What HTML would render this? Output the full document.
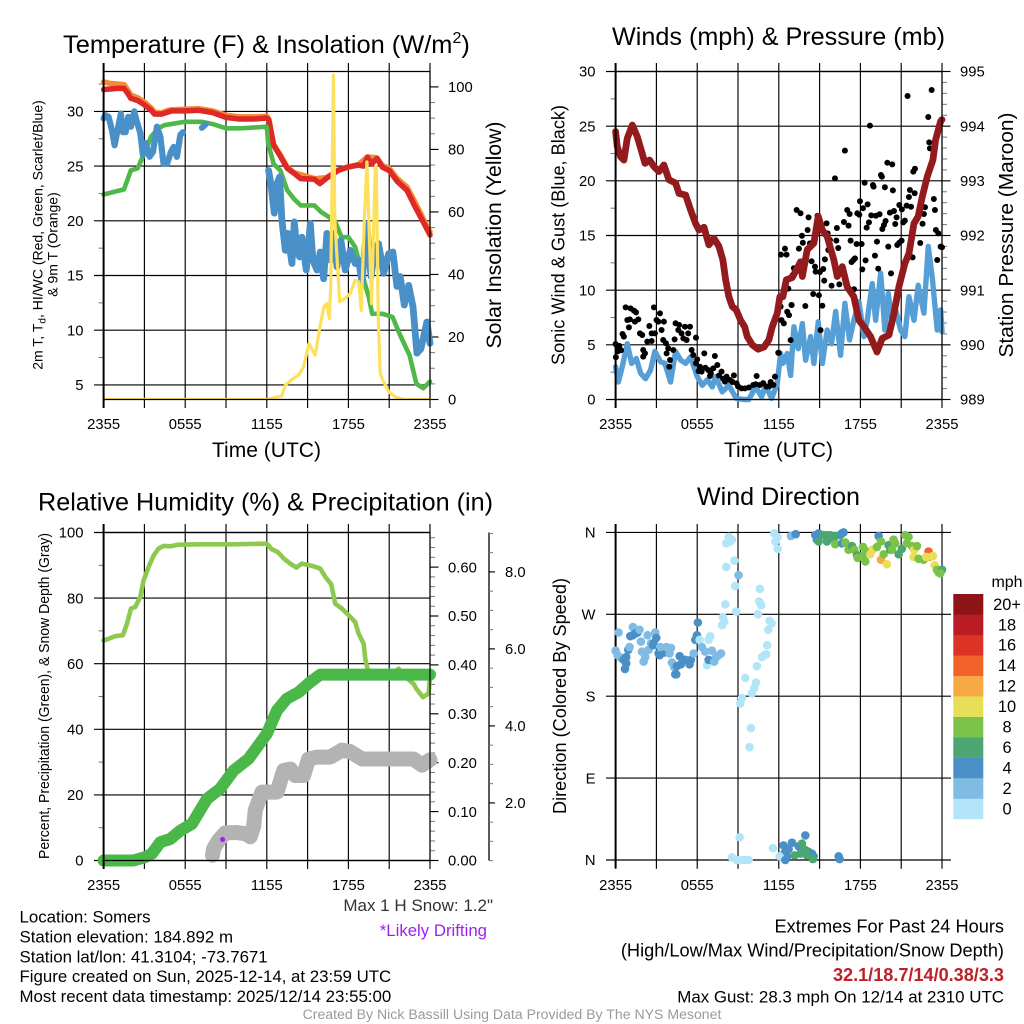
<!DOCTYPE html>
<html lang="en">
<head>
<meta charset="utf-8">
<title>Somers Mesonet Meteogram</title>
<style>
html,body{margin:0;padding:0;background:#fff;width:1024px;height:1024px;overflow:hidden}
svg{display:block;font-family:"Liberation Sans",Arial,sans-serif;fill:#000}
text{white-space:pre}
</style>
</head>
<body>
<svg id="chart" width="1024" height="1024" viewBox="0 0 1024 1024" xmlns="http://www.w3.org/2000/svg">
  <rect x="0" y="0" width="1024" height="1024" fill="#fff"/>
  <defs><clipPath id="temp-clip"><rect x="103" y="71" width="328" height="328.5"/></clipPath></defs>

  <g id="layer-plots"></g>

  <text x="63" y="53" font-size="25.4">Temperature (F) &amp; Insolation (W/m<tspan dy="-10" font-size="16">2</tspan><tspan dy="10">)</tspan></text>
  <text x="612" y="45" font-size="25.2" textLength="333" lengthAdjust="spacingAndGlyphs">Winds (mph) &amp; Pressure (mb)</text>
  <text x="38" y="510.5" font-size="25.2" textLength="455" lengthAdjust="spacingAndGlyphs">Relative Humidity (%) &amp; Precipitation (in)</text>
  <text x="697" y="505" font-size="25.2" textLength="163" lengthAdjust="spacingAndGlyphs">Wind Direction</text>

  <text x="212" y="457" font-size="20.9" textLength="109" lengthAdjust="spacingAndGlyphs">Time (UTC)</text>
  <text x="724" y="457" font-size="20.9" textLength="109" lengthAdjust="spacingAndGlyphs">Time (UTC)</text>

  <text transform="translate(42.5,235) rotate(-90)" text-anchor="middle" font-size="14">2m T, T<tspan dy="3" font-size="10">d</tspan><tspan dy="-3">, HI/WC (Red, Green, Scarlet/Blue)</tspan></text>
  <text transform="translate(57.5,244.5) rotate(-90)" text-anchor="middle" font-size="14">&amp; 9m T (Orange)</text>
  <text transform="translate(501,235) rotate(-90)" text-anchor="middle" font-size="21" textLength="227" lengthAdjust="spacingAndGlyphs">Solar Insolation (Yellow)</text>
  <text transform="translate(564.5,235) rotate(-90)" text-anchor="middle" font-size="18.8" textLength="260" lengthAdjust="spacingAndGlyphs">Sonic Wind &amp; Gust (Blue, Black)</text>
  <text transform="translate(1013,235) rotate(-90)" text-anchor="middle" font-size="20.5" textLength="245" lengthAdjust="spacingAndGlyphs">Station Pressure (Maroon)</text>
  <text transform="translate(49,696) rotate(-90)" text-anchor="middle" font-size="14.6" textLength="326" lengthAdjust="spacingAndGlyphs">Percent, Precipitation (Green), &amp; Snow Depth (Gray)</text>
  <text transform="translate(566,696) rotate(-90)" text-anchor="middle" font-size="18.8" textLength="236" lengthAdjust="spacingAndGlyphs">Direction (Colored By Speed)</text>

  <text x="493" y="911" text-anchor="end" font-size="17" fill="#333">Max 1 H Snow: 1.2"</text>
  <text x="487" y="936" text-anchor="end" font-size="16.8" fill="#a020f0">*Likely Drifting</text>

  <text x="19.5" y="922.5" font-size="16.85">Location: Somers</text>
  <text x="19.5" y="942.5" font-size="16.85">Station elevation: 184.892 m</text>
  <text x="19.5" y="962.5" font-size="16.85">Station lat/lon: 41.3104; -73.7671</text>
  <text x="19.5" y="982" font-size="16.85">Figure created on Sun, 2025-12-14, at 23:59 UTC</text>
  <text x="19.5" y="1002" font-size="16.85">Most recent data timestamp: 2025/12/14 23:55:00</text>

  <text x="1004" y="932.5" text-anchor="end" font-size="18.2">Extremes For Past 24 Hours</text>
  <text x="1004" y="956.5" text-anchor="end" font-size="18.2">(High/Low/Max Wind/Precipitation/Snow Depth)</text>
  <text x="1004" y="981" text-anchor="end" font-size="18.1" font-weight="bold" fill="#c01f28">32.1/18.7/14/0.38/3.3</text>
  <text x="1004" y="1002.5" text-anchor="end" font-size="16.9">Max Gust: 28.3 mph On 12/14 at 2310 UTC</text>
  <text x="512" y="1019" text-anchor="middle" font-size="14.1" fill="#9a9a9a">Created By Nick Bassill Using Data Provided By The NYS Mesonet</text>
</svg>

<script>
/* ---------- shared axis data ---------- */
const xTickHours = [0, 3, 6, 9, 12, 15, 18, 21, 24];
const xTickLabels = ['2355', '', '0555', '', '1155', '', '1755', '', '2355'];

const tempTicks = [5, 10, 15, 20, 25, 30];
const tempMinorTicks = [7.5, 12.5, 17.5, 22.5, 27.5, 32.5];
const solarTicks = [0, 20, 40, 60, 80, 100];
const solarMinorTicks = [5, 10, 15, 25, 30, 35, 45, 50, 55, 65, 70, 75, 85, 90, 95];
const windTicks = [0, 5, 10, 15, 20, 25, 30];
const windMinorTicks = [2.5, 7.5, 12.5, 17.5, 22.5, 27.5];
const pressureTicks = [989, 990, 991, 992, 993, 994, 995];
const pressureMinorTicks = [989.2, 989.4, 989.6, 989.8, 990.2, 990.4, 990.6, 990.8, 991.2, 991.4, 991.6, 991.8, 992.2, 992.4, 992.6, 992.8, 993.2, 993.4, 993.6, 993.8, 994.2, 994.4, 994.6, 994.8];
const percentTicks = [0, 20, 40, 60, 80, 100];
const percentMinorTicks = [10, 30, 50, 70, 90];
const precipTicks = [0, 0.1, 0.2, 0.3, 0.4, 0.5, 0.6];
const precipTickLabels = ['0.00', '0.10', '0.20', '0.30', '0.40', '0.50', '0.60'];
const precipMinorTicks = [0.02, 0.04, 0.06, 0.08, 0.12, 0.14, 0.16, 0.18, 0.22, 0.24, 0.26, 0.28, 0.32, 0.34, 0.36, 0.38, 0.42, 0.44, 0.46, 0.48, 0.52, 0.54, 0.56, 0.58, 0.62, 0.64, 0.66];
const snowTicks = [2, 4, 6, 8];
const snowTickLabels = ['2.0', '4.0', '6.0', '8.0'];
const snowMinorTicks = [0.5, 1, 1.5, 2.5, 3, 3.5, 4.5, 5, 5.5, 6.5, 7, 7.5, 8.5, 9];
const directionTicks = [0, 90, 180, 270, 360];
const directionTickLabels = ['N', 'E', 'S', 'W', 'N'];

/* ---------- temperature panel ---------- */
const airTempHours = [0,.5,1,1.5,1.75,2,2.5,3,3.5,3.75,4.25,4.75,5,6,7,8,9,10,11,12,12.15,12.5,12.75,13,13.5,14,14.5,15.5,15.9,16.4,17,17.25,17.9,18.75,19.1,19.4,19.7,20.1,20.5,21,21.6,22.3,22.9,23.5,24];
const airTempValues = [32,32.05,32.1,32.1,31.7,31.2,31,30.6,30.1,29.75,29.75,29.95,30.05,30.05,30.1,29.9,29.45,29.3,29.3,29.4,29.2,26.9,26.4,25.9,24.8,24.35,23.85,23.8,23.4,23.9,24.4,24.6,24.9,25.1,25,25.8,25.2,25.7,24.9,24.6,23.6,22.8,21.3,19.9,18.7];
const nineMeterHours = [0,.5,1,1.5,1.75,2,2.5,3,3.5,3.75,4.25,4.75,5,6,7,8,9,10,11,12,12.15,12.5,13,13.5,14,15.5,16.4,17.25,18.75,19.4,20.1,20.5,21,21.6,22.3,22.9,23.5,24];
const nineMeterValues = [32.7,32.55,32.5,32.45,32,31.5,31.25,30.85,30.3,29.9,29.85,30.1,30.15,30.2,30.25,30.05,29.65,29.5,29.5,29.55,29.3,27,26,24.9,24.4,23.85,23.95,24.65,25.15,25.85,25.75,25.05,24.8,23.85,23.1,21.7,20.2,19];
const heatIndexHours = [0,1.5,2,2.5,3,3.5,4,4.5,6,7.2,8,9,10,12,12.1,12.5,13,13.5,14,14.5,15.5,16,17,17.5,18,18.5,19,19.5,19.75,20.5,21.25,21.75,22.5,23,23.5,24];
const heatIndexValues = [22.4,22.87,24.6,24.8,26.2,27.7,28.45,28.75,29.05,29.05,28.85,28.45,28.45,28.6,27.1,25.2,24.6,22.8,22,21.4,21.4,20.8,20,18.5,18.5,17.6,15.2,13,11.5,11.5,11.2,9.7,7.7,5.1,4.7,5.3];
const dewPointHoursA = [0,.12,.37,.61,.81,.98,1.27,1.42,1.62,1.81,2.01,2.25,2.45,2.7,2.89,3.09,3.38,3.63,3.92,4.17,4.41,4.66,4.95,5.15,5.39,5.64,5.83];
const dewPointValuesA = [29.36,29.66,29.5,28.3,26.9,28,29.8,28.1,28.1,29.5,28.6,30,29.05,28,26,27.1,25.85,26.3,28.6,27.7,25.2,25.2,26.3,26.75,25.85,27.85,28.1];
const dewPointHoursB = [7.23,7.52];
const dewPointValuesB = [28.5,28.85];
const dewPointHoursC = [12.13,12.3,12.55,12.75,12.94,13.11,13.36,13.53,13.85,14.02,14.22,14.41,14.58,14.9,15.2,15.39,15.69,15.93,16.18,16.42,16.67,16.91,17.16,17.45,17.77,18.14,18.5,18.75,19,19.36,19.66,19.98,20.22,20.59,20.96,21.27,21.57,21.81,22.11,22.43,22.75,23.04,23.33,23.77,24];
const dewPointValuesC = [24.6,23.4,20.7,23.4,24,20.05,17.3,18.85,16.1,19.9,17.3,16.7,18.5,15.5,19.75,16.4,15.5,17.15,14.7,18.85,16.4,18.85,15.8,18.2,15.5,17.3,16.1,16.4,14.4,19.6,14.9,17.6,17.9,15.2,17,17.15,14,14.9,12.3,14.1,12.15,7.9,8.3,10.75,8.8];
const solarHours = [0,12,12.5,13.1,13.36,13.85,14.34,14.7,15.1,15.56,15.9,16.2,16.4,16.6,16.7,16.9,17,17.36,17.77,18.14,18.5,18.75,18.95,19.17,19.36,19.5,19.7,19.98,20.05,20.2,20.34,20.6,20.96,21.45,22.06,24];
const solarValues = [0,0,.6,1.1,4.6,6.4,7.8,10.4,17.9,14.2,23.2,29.6,30.7,25.9,36,103.7,57.3,31.3,32.4,34,38.2,37.7,28.5,57.4,76,57.4,30.7,74.4,74.4,25.4,8.3,5.6,2.5,.85,0,0];

/* ---------- wind panel ---------- */
const windHours = [0,.2,.49,.86,1.18,1.52,1.84,2.2,2.57,2.89,3.31,3.63,4.04,4.41,4.78,5.15,5.51,6,6.37,6.74,7.11,7.35,7.84,8.33,8.87,9.44,9.8,10.29,10.74,11.03,11.47,11.89,12.13,12.3,12.62,12.87,13.11,13.43,13.73,13.97,14.34,14.58,14.9,15.2,15.56,15.88,16.18,16.54,16.86,17.2,17.52,17.89,18.26,18.5,18.87,19.12,19.49,19.8,20.05,20.34,20.59,20.96,21.27,21.57,21.94,22.25,22.67,22.99,23.28,23.65,23.9,24];
const windValues = [3,1.6,3,5.1,3.3,3.75,2.4,1.9,2.7,4.4,3.45,3.3,1.6,4.4,3.6,3.3,3.9,2.1,1.3,1.8,1.15,2.1,.7,1.3,.1,0,0,1.15,.25,1.3,.1,1.45,4.2,3.3,4.2,2.2,6.65,4.65,6.95,3.6,5.75,3.3,7.1,3.3,6.35,5.1,8.05,4.05,8.8,5.45,7.25,8.95,5.75,7.25,10.6,7.25,11.55,6.35,9.7,6.95,8.2,6.35,5.75,9.4,7.25,10.45,7.9,14,11.2,6.35,8.2,6.2];
const pressureHours = [0,.12,.37,.61,.86,1.23,1.59,1.91,2.16,2.5,2.82,3.19,3.55,3.92,4.41,4.66,5.15,5.51,5.88,6.13,6.5,6.86,7.23,7.6,7.89,8.09,8.33,8.58,8.87,9.19,9.49,9.68,10.05,10.49,10.91,11.27,11.52,11.89,12.08,12.3,12.55,12.99,13.6,13.73,14.09,14.58,14.9,15.2,15.56,16.05,16.3,16.67,17.03,17.52,17.89,18.26,18.75,19.22,19.61,20.1,20.47,20.83,21.27,21.57,21.94,22.25,22.55,22.92,23.33,23.53,23.9,24];
const pressureValues = [993.9,993.63,993.44,993.38,993.78,994.02,993.81,993.54,993.32,993.38,993.26,993.17,993.29,993.02,992.96,992.77,992.74,992.47,992.22,992.1,992.15,991.83,991.95,991.8,991.55,991.19,990.88,990.7,990.64,990.45,990.33,990.15,990,989.92,989.96,990.09,990.33,990.58,990.88,990.88,991.19,991.23,991.52,991.25,991.74,991.86,992.35,992.1,991.98,991.55,991.25,991.43,991.06,990.88,990.45,990.33,990.15,989.87,990.12,990.18,990.58,991.06,991.49,991.67,992.22,992.35,992.71,993.08,993.38,993.75,994.09,994.12];
const gustHours = [0,.12,.32,.02,.51,.61,.74,.86,1.05,.98,1.1,1.35,1.5,1.42,1.67,1.79,1.96,2.03,2.16,2.03,2.48,2.33,2.65,2.65,2.82,2.89,3.01,3.26,3.14,3.38,3.55,3.5,3.7,3.87,3.75,4,3.95,4.24,4.34,4.41,4.68,4.61,4.85,5.1,4.98,5.22,5.47,5.34,5.91,5.59,5.71,6,5.91,6.2,6.52,6.32,6.81,6.94,7.18,7.3,7.48,7.79,8.04,8.16,8.41,8.7,8.9,9.26,9.51,10.37,10.12,10.61,11.1,11.72,11.96,11.6,9.8,10.3,10.85,11.3,11.4,7,7.6,6.6,6.1,7.9,8.6,9,.2,.27,.4,.15,
13.31,13.6,14.19,14.85,15.51,16.27,16.79,17.13,17.03,17.21,16.86,16.13,18.7,18.31,18.92,18.97,19.51,19.58,19.98,20.34,19.8,20.39,17.97,18.19,18.53,17.77,17.92,18.8,19.14,19.41,18.63,18.46,19.85,19.73,19.61,20.17,20.47,20.66,20.56,20.86,21.05,21.4,21.72,21.27,21.15,21.64,21.57,21.99,21.47,23.24,22.99,23.06,23.11,22.01,21.89,22.75,22.67,22.57,23.4,23.48,23.55,23.73,23.9,24,22.4,21.84,21.03,20.86,20.71,20.05,19.22,19.07,19.31,20.25,18.38,18.14,17.72,18.09,17.28,17.6,17.48,17.35,17.53,16.45,16.37,16.23,15.59,15.76,15.64,15.39,15.34,15.88,15.27,15.02,14.71,14.66,14.41,14.29,14.12,13.7,13.77,13.48,13.11,13.01,12.7,12.45,12.57,12.16,14.53,14.95,15.2,13.95,12.94,12.13,15.07,12.87,12.2,12.37,12.62,12.94,12.75,12,23.65];
const gustValues = [5.08,4.83,4.59,3.86,5.99,5.75,8.43,7.27,7.33,6.6,8.34,8.13,7.97,7.12,7.33,6.05,5.9,4.53,4.22,3.92,6.72,5.29,5.35,6.05,8.43,6.05,7.27,7.88,7.12,6.36,7.12,5.44,5.14,4.68,4.22,3.61,3,4.53,5.5,6.97,6.81,6.36,6.05,6.66,5.59,5.44,6.66,6.05,5.66,4.53,4.07,3.67,3.31,3,4.22,2.55,2.7,2.15,2.85,3.98,3.16,2.55,1.63,2.09,1.78,2.21,1.48,1.02,1.02,2.15,1.33,1.33,1.18,2.09,4.28,1.33,1.1,1.4,1.5,1.2,1.6,2.4,2.2,2.9,2.6,1.9,1.6,1.2,4.6,4.9,4.5,4.4,
17.33,17.03,16.66,16.81,16.11,15.69,16.24,15.9,17.33,16.97,22.76,20.23,25.05,19.83,19.62,19.47,20.53,20.38,21.66,21.51,19.41,19.13,18.13,17.49,17.85,17.03,16.9,16.84,16.81,16.94,16.2,15.72,16.33,15.96,15.6,17.09,17.24,16.66,16.05,17.79,17.39,17.73,17.63,16.36,16.2,19.16,18.52,18.86,27.76,28.31,25.84,23.52,22.97,21.11,20.84,17.58,16.97,16.08,18.34,17.33,15.5,15.2,13.98,13.92,14.31,13,14.53,14.34,14.13,13.98,14.44,13.16,11.97,11.54,12.73,11.9,14.22,14.22,14.53,12.91,12.76,12.58,10.08,10.53,13.86,14.53,15.2,14.59,13.67,12.82,10.87,10.41,11.94,11.66,11.69,12.15,12.64,14.28,15.5,14.98,14.34,13.8,12,11.36,10.14,13.8,13.25,13.25,9.65,9.53,8.58,8.55,8.64,8.49,6.35,5.43,7.26,6.96,8.03,8.64,7.72,4.27,12.76];

/* ---------- humidity / precipitation panel ---------- */
const humidityHours = [0,.37,.86,1.42,1.72,2.01,2.33,2.7,2.94,3.31,3.68,4.04,4.41,4.9,5.51,7.11,9.56,12,12.37,12.79,13.24,13.73,14.17,14.58,15.44,15.93,16.3,16.74,17.03,17.52,18.01,18.5,18.75,19.12,19.24,19.49,21.32,21.69,22.18,22.79,22.99,23.48,23.9,24];
const humidityValues = [67.1,67.6,68.4,68.7,72.2,76.8,77.3,80.4,85.4,89.5,93,95.1,95.9,95.8,96.3,96.4,96.4,96.6,94.9,94.1,92.1,90.5,89.3,90.5,89.7,89,86.5,84.2,78.3,76.8,74.8,72.7,69.2,66.1,61.5,57,57,58.5,56,53.9,52.4,49.8,50.9,56];
const precipHours = [0,2.2,3.06,3.55,4.17,4.9,5.64,6.5,7.6,8.58,9.56,10.66,12,12.75,13.48,14.34,15.2,15.93,24];
const precipValues = [0,0,.007,.014,.0375,.044,.061,.075,.126,.147,.184,.208,.259,.307,.331,.344,.365,.38,.38];
const snowHours = [8.01,8.09,8.46,8.95,9.8,10.42,10.78,11.03,11.15,11.64,12.13,12.75,13.24,13.73,14.09,14.71,15.07,15.69,16.67,17.52,18.14,19,22.79,23.41,24];
const snowValues = [.64,.81,1.03,1.22,1.23,1.2,1.12,1.38,1.81,2.28,2.28,2.28,2.84,2.88,2.71,2.71,3.14,3.19,3.19,3.37,3.33,3.14,3.14,2.98,3.12];
const driftHours = [8.75];
const driftValues = [1.05];

/* ---------- wind-direction panel ---------- */
const directionHours = [0,.15,.39,.22,.59,.78,.69,.78,.93,1.03,1.08,1.27,1.27,1.45,1.62,1.76,1.86,1.94,2.06,2.18,2.35,2.43,2.6,2.75,2.92,2.99,2.79,3.16,3.24,3.41,3.58,3.28,3.73,3.97,4.07,4.14,4.31,4.39,4.46,4.51,4.71,4.8,5.12,5.44,5.37,5.54,5.74,5.86,5.98,6.05,6.18,6.35,6.59,6.72,6.84,6.84,6.96,7.08,7.25,7.4,7.57,7.75,
7.82,7.89,7.99,8.06,8.14,8.31,8.43,8.55,8.14,8.73,8.8,8.87,9.04,9.53,9.17,9.29,9.95,9.85,10.02,10.2,10.32,10.39,10.47,10.61,10.56,10.71,10.76,10.93,11.08,11.15,11.23,11.32,11.47,11.67,11.91,11.74,11.91,9.12,8.55,8.92,9.29,9.53,9.78,11.57,
12.89,13.24,12.35,12.23,12.48,12.6,12.72,12.06,12.48,12.97,13.46,13.16,13.7,13.95,13.58,13.95,14.19,14.44,14.56,14.51,14.07,16.4,16.47,
14.68,14.93,14.8,14.93,15.29,15.54,15.78,15.54,16.15,16.03,16.15,16.52,16.64,16.76,16.64,16.89,17.13,17.38,17.55,17.75,17.79,18.19,18.24,18.36,18.6,18.73,18.9,19.34,19.22,19.51,19.51,19.71,19.95,20.07,20.2,20.44,20.56,20.32,20.81,21.05,21.3,21.42,21.54,21.79,21.96,21.91,22.16,22.28,22.65,23.01,23.09,22.84,23.33,23.46,23.63,23.75,24,23.87];
const directionDegrees = [230,225,222,250,220,223,210,216,231,234,246,256,247,249,250,253,240,229,218,223,247,231,238,236,250,244,238,227,225,229,228,234,234,227,233,217,212,204,204,213,224,215,220,215,218,220,227,242,247,261,242,234,229,214,220,242,246,230,218,223,225,227,
258,267,262,281,348,355,350,352,322,329,301,273,313,200,172,178,145,124,183,189,195,213,270,298,284,280,223,225,226,236,253,263,260,359,355,350,342,25,3,0,0,0,0,13,
356,358,16,5,9,4,12,4,0,19,15,5,18,27,7,11,9,7,4,1,5,4,1,
357,359,352,350,357,357,357,350,356,353,347,357,359,360,348,349,341,345,341,335,332,344,335,328,339,336,341,356,344,350,330,336,325,346,341,352,348,341,336,342,357,348,355,345,341,333,345,331,330,339,333,333,334,324,319,316,319,315];
const directionSpeeds = [3,3,3,3,5,5,5,5,5,3,5,3,5,5,5,3,3,3,3,3,3,3,3,5,3,5,5,5,5,5,5,3,3,3,3,3,3,5,5,5,5,5,5,5,5,5,3,5,5,5,1,3,3,1,5,1,1,3,3,3,3,3,
1,1,1,1,1,1,1,1,1,1,1,1,3,1,1,1,1,1,1,1,1,1,1,1,1,1,1,1,1,1,1,1,1,1,1,1,1,1,1,1,1,1,1,1,
3,5,5,5,5,5,5,1,5,5,5,7,7,5,7,7,7,5,5,7,7,5,5,
5,5,5,7,7,7,7,7,7,7,9,7,5,5,5,9,9,7,9,7,9,9,9,9,9,11,11,5,9,9,13,9,11,7,7,9,9,9,7,7,9,9,9,9,11,11,9,9,9,15,13,11,11,11,9,9,7,9];

const legendLabels = ['0', '2', '4', '6', '8', '10', '12', '14', '16', '18', '20+'];
const legendColors = ['#b3e5f8', '#7fbbe5', '#4a90c6', '#4ba672', '#7bc24a', '#e8df58', '#f7a945', '#f26329', '#dd3327', '#b91c23', '#8f1417'];

/* ---------- geometry and axis functions ---------- */
const NS = 'http://www.w3.org/2000/svg';
const root = document.getElementById('layer-plots');
const GRID = 1.15;

function leftX(h) { return 103.6 + h * 13.6; }
function rightX(h) { return 615.6 + h * 13.6; }
function tempY(v) { return 111.4 + (30 - v) * 10.94; }
function solarY(v) { return 399.5 - v * 3.126; }
function windY(v) { return 399.5 - v * 10.933; }
function pressureY(v) { return 399.5 - (v - 989) * 54.667; }
function percentY(v) { return 860.5 - v * 3.28; }
function precipY(v) { return 860.5 - v * 489; }
function snowY(v) { return 879.9 - v * 38.5; }
function directionY(v) { return 860 - v * 0.91; }

function addLine(name, parent, x1, y1, x2, y2, width, color) {
  const el = document.createElementNS(NS, 'line');
  
  
  el.setAttribute('x1', x1);
  el.setAttribute('y1', y1);
  el.setAttribute('x2', x2);
  el.setAttribute('y2', y2);
  el.setAttribute('stroke', color || '#000');
  el.setAttribute('stroke-width', width || GRID);
  parent.appendChild(el);
  return el;
}
function addText(name, parent, x, y, content, anchor, size) {
  const el = document.createElementNS(NS, 'text');
  
  
  el.setAttribute('x', x);
  el.setAttribute('y', y);
  el.setAttribute('text-anchor', anchor);
  el.setAttribute('font-size', size || 14.8);
  el.textContent = content;
  parent.appendChild(el);
  return el;
}
function addGroup(name, parent) {
  const el = document.createElementNS(NS, 'g');
  
  
  parent.appendChild(el);
  return el;
}
function addSeries(name, parent, hours, values, sx, sy, width, color) {
  const el = document.createElementNS(NS, 'polyline');
  
  
  el.setAttribute('points', hours.map(function (h, i) { return sx(h).toFixed(2) + ',' + sy(values[i]).toFixed(2); }).join(' '));
  el.setAttribute('fill', 'none');
  el.setAttribute('stroke', color);
  el.setAttribute('stroke-width', width);
  el.setAttribute('stroke-linejoin', 'round');
  el.setAttribute('stroke-linecap', 'round');
  parent.appendChild(el);
  return el;
}
function addDots(name, parent, hours, values, sx, sy, radius, colorOf) {
  hours.forEach(function (h, i) {
    const el = document.createElementNS(NS, 'circle');
    
    
    el.setAttribute('cx', sx(h).toFixed(2));
    el.setAttribute('cy', sy(values[i]).toFixed(2));
    el.setAttribute('r', radius);
    el.setAttribute('fill', colorOf(i));
    parent.appendChild(el);
  });
}
function drawVerticalGrid(parent, sx, top, bottom, labelY) {
  xTickHours.forEach(function (h, i) {
    const x = sx(h);
    addLine('x-grid-line', parent, x, top - 8.5, x, bottom + 8.5);
    if (xTickLabels[i]) {
      addText('x-tick-label', parent, x, labelY, xTickLabels[i], 'middle');
    }
  });
}
function drawHorizontalGrid(parent, ticks, labels, sy, xLeft, xRight, labelX) {
  ticks.forEach(function (v, i) {
    const y = sy(v);
    addLine('y-grid-line', parent, xLeft, y, xRight, y);
    addText('y-tick-label', parent, labelX, y + 5.2, labels ? labels[i] : String(v), 'end');
  });
}
function drawMinorTicks(parent, ticks, sy, x, len) {
  ticks.forEach(function (v) {
    addLine('minor-tick', parent, x, sy(v), x + len, sy(v), 1, '#777');
  });
}
function drawRightTicks(parent, ticks, labels, sy, x, len, labelX) {
  ticks.forEach(function (v, i) {
    const y = sy(v);
    addLine('right-tick', parent, x, y, x + len, y);
    addText('right-tick-label', parent, labelX, y + 5.2, labels ? labels[i] : String(v), 'start');
  });
}
function drawBorder(parent, x1, x2, top, bottom) {
  addLine('plot-border-top', parent, x1, top, x2, top);
  addLine('plot-border-bottom', parent, x1, bottom, x2, bottom);
  addLine('plot-border-left', parent, x1, top - 8.5, x1, bottom + 8.5, 2);
  addLine('plot-border-right', parent, x2, top, x2, bottom);
}

/* ---------- panel 1 : temperature ---------- */
const p1 = addGroup('temperature-panel', root);
drawVerticalGrid(p1, leftX, 71.5, 399.5, 429);
drawHorizontalGrid(p1, tempTicks, null, tempY, 94, 430, 83.5);
drawMinorTicks(p1, tempMinorTicks, tempY, 103.6, -5);
drawRightTicks(p1, solarTicks, null, solarY, 430, 8.5, 448);
drawMinorTicks(p1, solarMinorTicks, solarY, 430, 5);
addSeries('nine-meter-temperature-line', p1, nineMeterHours, nineMeterValues, leftX, tempY, 5.5, '#f58b35');
addSeries('air-temperature-line', p1, airTempHours, airTempValues, leftX, tempY, 5.5, '#dd2a27');
addSeries('heat-index-line', p1, heatIndexHours, heatIndexValues, leftX, tempY, 4.6, '#4fb848');
addSeries('dew-point-line-early', p1, dewPointHoursA, dewPointValuesA, leftX, tempY, 6.2, '#4a90c8');
addSeries('dew-point-line-middle', p1, dewPointHoursB, dewPointValuesB, leftX, tempY, 6.2, '#4a90c8');
addSeries('dew-point-line-late', p1, dewPointHoursC, dewPointValuesC, leftX, tempY, 6.8, '#4a90c8');
const solarLine = addSeries('solar-insolation-line', p1, solarHours, solarValues, leftX, solarY, 3.2, '#fde05b');
solarLine.setAttribute('clip-path', 'url(#temp-clip)');
drawBorder(p1, 103.6, 430, 71.5, 399.5);

/* ---------- panel 2 : winds ---------- */
const p2 = addGroup('winds-panel', root);
drawVerticalGrid(p2, rightX, 71.5, 399.5, 429);
drawHorizontalGrid(p2, windTicks, null, windY, 606, 942, 595.5);
drawMinorTicks(p2, windMinorTicks, windY, 615.6, -5);
drawRightTicks(p2, pressureTicks, null, pressureY, 942, 8.5, 960);
drawMinorTicks(p2, pressureMinorTicks, pressureY, 942, 5);
addSeries('sustained-wind-line', p2, windHours, windValues, rightX, windY, 5.4, '#569fd6');
addDots('wind-gust-dot', p2, gustHours, gustValues, rightX, windY, 3, function () { return '#000'; });
addSeries('station-pressure-line', p2, pressureHours, pressureValues, rightX, pressureY, 6.8, '#931a1d');
drawBorder(p2, 615.6, 942, 71.5, 399.5);

/* ---------- panel 3 : humidity and precipitation ---------- */
const p3 = addGroup('humidity-panel', root);
drawVerticalGrid(p3, leftX, 532.5, 860.5, 890);
drawHorizontalGrid(p3, percentTicks, null, percentY, 94, 430, 83.5);
drawMinorTicks(p3, percentMinorTicks, percentY, 103.6, -5);
drawRightTicks(p3, precipTicks, precipTickLabels, precipY, 430, 8.5, 448);
drawMinorTicks(p3, precipMinorTicks, precipY, 430, 5);
addLine('snow-depth-axis-line', p3, 489, 532.5, 489, 860.5, 1.3);
drawRightTicks(p3, snowTicks, snowTickLabels, snowY, 489, 6, 505);
drawMinorTicks(p3, snowMinorTicks, snowY, 489, 4);
addSeries('relative-humidity-line', p3, humidityHours, humidityValues, leftX, percentY, 4.6, '#8dc94f');
addSeries('snow-depth-line', p3, snowHours, snowValues, leftX, snowY, 15, '#b3b3b3');
addSeries('precipitation-line', p3, precipHours, precipValues, leftX, precipY, 12, '#4ab749');
addDots('drifting-snow-marker', p3, driftHours, driftValues, leftX, snowY, 2.5, function () { return '#a020f0'; });
drawBorder(p3, 103.6, 430, 532.5, 860.5);

/* ---------- panel 4 : wind direction ---------- */
const p4 = addGroup('wind-direction-panel', root);
drawVerticalGrid(p4, rightX, 532.5, 860.2, 890);
directionTicks.forEach(function (v, i) {
  const y = directionY(v);
  addLine('direction-grid-line', p4, 606, y, 951, y);
  addText('direction-tick-label', p4, 595.5, y + 5.2, directionTickLabels[i], 'end');
});
addLine('direction-left-border', p4, 615.6, 524, 615.6, 868.5, 2);
addDots('wind-direction-dot', p4, directionHours, directionDegrees, rightX, directionY, 4.3, function (i) {
  return legendColors[Math.min(Math.floor(directionSpeeds[i] / 2), legendColors.length - 1)];
});

/* ---------- colour legend ---------- */
const legend = addGroup('wind-speed-legend', root);
const legendTop = 594;
const legendBoxHeight = 225 / legendColors.length;
addText('legend-unit-label', legend, 1007, 587, 'mph', 'middle', 16);
legendLabels.forEach(function (label, i) {
  const y = legendTop + (legendLabels.length - 1 - i) * legendBoxHeight;
  const box = document.createElementNS(NS, 'rect');
  
  
  box.setAttribute('x', 953.3);
  box.setAttribute('y', y);
  box.setAttribute('width', 30);
  box.setAttribute('height', legendBoxHeight + 0.2);
  box.setAttribute('fill', legendColors[i]);
  legend.appendChild(box);
  addText('legend-label', legend, 1007, y + legendBoxHeight / 2 + 5.6, label, 'middle', 16.4);
});
</script>
</body>
</html>
